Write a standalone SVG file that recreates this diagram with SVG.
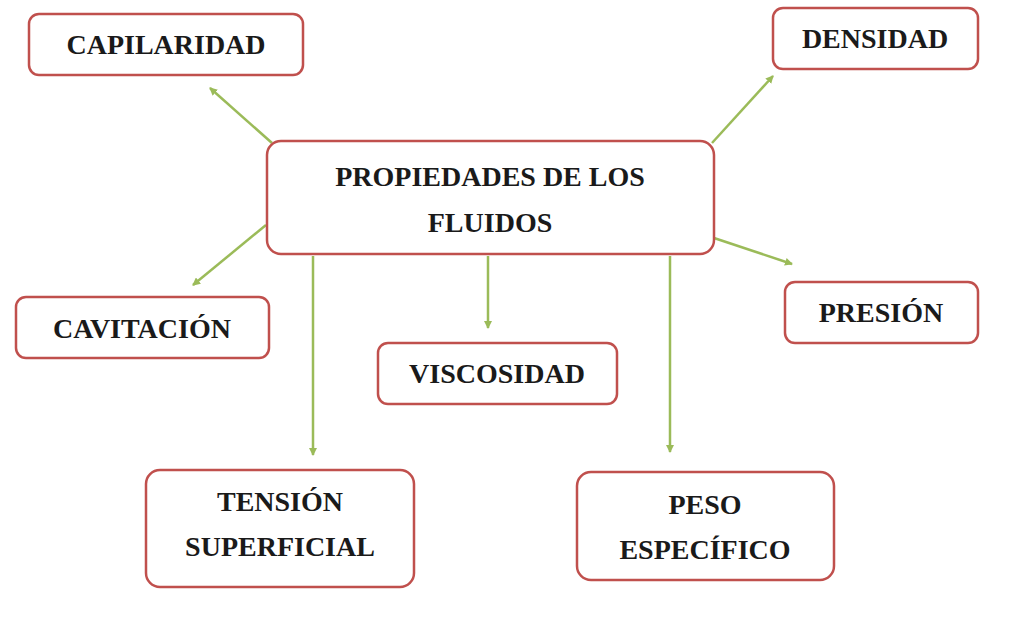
<svg xmlns="http://www.w3.org/2000/svg" width="1024" height="630" viewBox="0 0 1024 630">
<style>
.b{fill:#fff;stroke:#c0504d;stroke-width:2.5}
.t{font-family:"Liberation Serif",serif;font-weight:bold;font-size:28px;fill:#1a1a1a;text-anchor:middle}
.c line{stroke:#9bbb59;stroke-width:2.5;marker-end:url(#a)}
</style>
<defs><marker id="a" markerWidth="8" markerHeight="8" refX="7" refY="4" orient="auto" markerUnits="userSpaceOnUse"><path d="M0,0 L8,4 L0,8 z" fill="#9bbb59"/></marker></defs>
<rect width="1024" height="630" fill="#fff"/>
<g class="c">
<line x1="272" y1="143" x2="210" y2="88"/>
<line x1="712" y1="143" x2="773" y2="76"/>
<line x1="266" y1="225" x2="193" y2="285"/>
<line x1="714" y1="238" x2="792" y2="264"/>
<line x1="488" y1="256" x2="488" y2="328"/>
<line x1="313" y1="256" x2="313" y2="455"/>
<line x1="670" y1="256" x2="670" y2="452"/>
</g>
<g id="central"><rect class="b" x="267" y="141" width="447" height="113" rx="14"/><text class="t" x="490" y="186">PROPIEDADES DE LOS</text><text class="t" x="490" y="232">FLUIDOS</text></g>
<g id="capilaridad"><rect class="b" x="29" y="14" width="274" height="61" rx="10"/><text class="t" x="166" y="54">CAPILARIDAD</text></g>
<g id="densidad"><rect class="b" x="773" y="8" width="205" height="61" rx="10"/><text class="t" x="875" y="48">DENSIDAD</text></g>
<g id="cavitacion"><rect class="b" x="16" y="297" width="253" height="61" rx="10"/><text class="t" x="142" y="338">CAVITACIÓN</text></g>
<g id="presion"><rect class="b" x="785" y="282" width="193" height="61" rx="10"/><text class="t" x="881" y="322">PRESIÓN</text></g>
<g id="viscosidad"><rect class="b" x="378" y="343" width="239" height="61" rx="10"/><text class="t" x="497" y="383">VISCOSIDAD</text></g>
<g id="tension"><rect class="b" x="146" y="470" width="268" height="117" rx="14"/><text class="t" x="280" y="511">TENSIÓN</text><text class="t" x="280" y="556">SUPERFICIAL</text></g>
<g id="peso"><rect class="b" x="577" y="472" width="257" height="108" rx="14"/><text class="t" x="705" y="514">PESO</text><text class="t" x="705" y="559">ESPECÍFICO</text></g>
</svg>
